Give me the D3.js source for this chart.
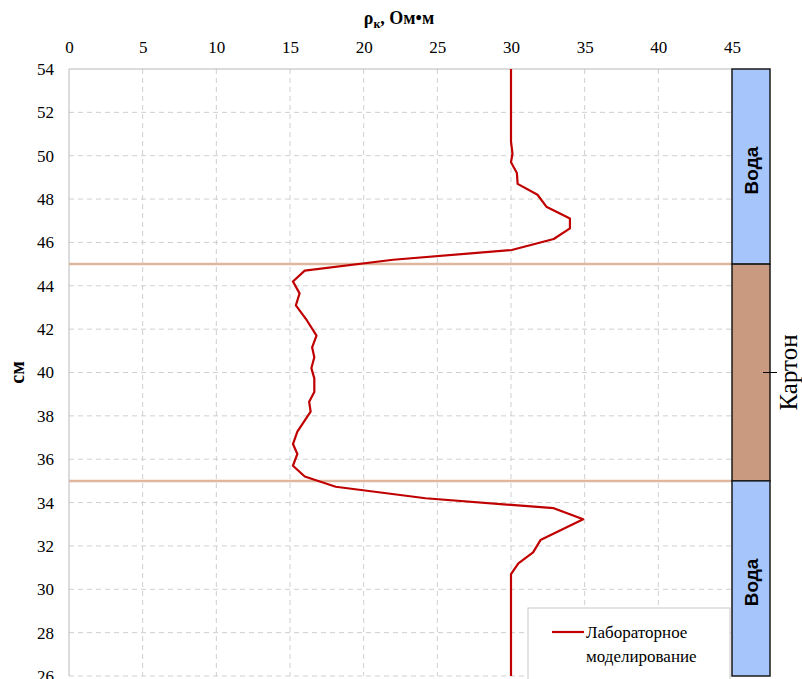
<!DOCTYPE html>
<html>
<head>
<meta charset="utf-8">
<script src="https://cdn.jsdelivr.net/npm/d3@7"></script>
<style>
  body { margin: 0; background: #fff; }
  svg { display: block; }
</style>
</head>
<body>
<div id="chart"></div>
<script>
// measured curve: resistivity (Ом•м) against depth (см)
var rho = [30, 30, 30.1, 30, 30.4, 30.45, 31.8, 32.4, 34, 34, 32.9, 30.05, 22, 16, 15.2, 15.65, 15.4, 16.15, 16.8, 16.5, 16.65, 16.45, 16.65, 16.65, 16.3, 16.4, 15.5, 15.2, 15.5, 15.2, 16, 18.1, 24.2, 32.9, 34.9, 32, 31.5, 30.5, 30, 30];
var depth = [54, 50.65, 50.1, 49.7, 49.2, 48.7, 48.2, 47.65, 47.1, 46.65, 46.16, 45.65, 45.2, 44.7, 44.2, 43.65, 43.1, 42.4, 41.7, 41.16, 40.7, 40.2, 39.73, 39.1, 38.65, 38.2, 37.27, 36.7, 36.24, 35.7, 35.2, 34.73, 34.2, 33.74, 33.23, 32.27, 31.7, 31.2, 30.7, 26];

var xTicks = [0, 5, 10, 15, 20, 25, 30, 35, 40, 45];
var yTicks = [26, 28, 30, 32, 34, 36, 38, 40, 42, 44, 46, 48, 50, 52, 54];

// layers of the model
var layerNames = ["Вода", "Картон", "Вода"];
var layerTop = [54, 45, 35];
var layerBottom = [45, 35, 26];
var boundaries = [45, 35];

var width = 802, height = 679;
var m = { left: 69, right: 732, top: 69, bottom: 676 };

var svg = d3.select("#chart").append("svg")
    .attr("width", width)
    .attr("height", height);

var x = d3.scaleLinear().domain([0, 45]).range([m.left, m.right]);
var y = d3.scaleLinear().domain([26, 54]).range([m.bottom, m.top]);

var serif = "'Liberation Serif', 'Times New Roman', serif";

// grid
svg.selectAll(".vgrid")
    .data(xTicks.filter(function (d) { return d > 0 && d < 45; }))
    .enter().append("line")
    .attr("x1", function (d) { return x(d); })
    .attr("x2", function (d) { return x(d); })
    .attr("y1", m.top).attr("y2", m.bottom)
    .attr("stroke", "#cfcfcf")
    .attr("stroke-dasharray", "5,4")
    .attr("stroke-width", 1);

svg.selectAll(".hgrid")
    .data(yTicks.filter(function (d) { return d < 54; }))
    .enter().append("line")
    .attr("x1", m.left).attr("x2", m.right)
    .attr("y1", function (d) { return y(d); })
    .attr("y2", function (d) { return y(d); })
    .attr("stroke", "#cfcfcf")
    .attr("stroke-dasharray", "5,4")
    .attr("stroke-width", 1);

// frame (left and top)
svg.append("path")
    .attr("d", "M" + m.left + "," + m.bottom + "V" + m.top + "H" + m.right)
    .attr("fill", "none")
    .attr("stroke", "#b8b8b8")
    .attr("stroke-width", 1);

// axes
var xAxis = svg.append("g")
    .attr("transform", "translate(0," + (m.top - 16) + ")")
    .call(d3.axisTop(x).tickValues(xTicks).tickSize(0).tickPadding(0));
xAxis.select(".domain").remove();
xAxis.selectAll("text")
    .attr("font-family", serif)
    .attr("font-size", 17)
    .attr("fill", "#000");

var yAxis = svg.append("g")
    .attr("transform", "translate(" + (m.left - 15) + ",0)")
    .call(d3.axisLeft(y).tickValues(yTicks).tickSize(0).tickPadding(0));
yAxis.select(".domain").remove();
yAxis.selectAll("text")
    .attr("font-family", serif)
    .attr("font-size", 17)
    .attr("fill", "#000");

// axis titles
var title = svg.append("text")
    .attr("x", 399).attr("y", 24)
    .attr("text-anchor", "middle")
    .attr("font-family", serif)
    .attr("font-size", 18)
    .attr("font-weight", "bold");
title.append("tspan").text("ρ");
title.append("tspan").attr("font-size", 12).attr("dy", 4).text("к");
title.append("tspan").attr("dy", -4).text(", Ом•м");

svg.append("text")
    .attr("transform", "translate(24," + y(40) + ") rotate(-90)")
    .attr("text-anchor", "middle")
    .attr("font-family", serif)
    .attr("font-size", 20)
    .attr("font-weight", "bold")
    .text("см");

// layer boundaries
svg.selectAll(".bound")
    .data(boundaries)
    .enter().append("line")
    .attr("x1", m.left).attr("x2", m.right)
    .attr("y1", function (d) { return y(d); })
    .attr("y2", function (d) { return y(d); })
    .attr("stroke", "#dfb79f")
    .attr("stroke-width", 2.5);

// curve
var line = d3.line()
    .x(function (d, i) { return x(rho[i]); })
    .y(function (d, i) { return y(depth[i]); });

svg.append("path")
    .datum(rho)
    .attr("d", line)
    .attr("fill", "none")
    .attr("stroke", "#c00000")
    .attr("stroke-width", 2.2)
    .attr("stroke-linejoin", "round");

// layer column on the right
var colX = x(45), colW = 38;
var layerColor = ["#a6c6fb", "#c99a7f", "#a6c6fb"];

svg.selectAll(".layer")
    .data(layerNames)
    .enter().append("rect")
    .attr("x", colX)
    .attr("y", function (d, i) { return y(layerTop[i]); })
    .attr("width", colW)
    .attr("height", function (d, i) { return y(layerBottom[i]) - y(layerTop[i]); })
    .attr("fill", function (d, i) { return layerColor[i]; })
    .attr("stroke", "#1a1a1a")
    .attr("stroke-width", 1.5);

layerNames.forEach(function (name, i) {
    var cy = (y(layerTop[i]) + y(layerBottom[i])) / 2;
    if (name === "Вода") {
        svg.append("text")
            .attr("transform", "translate(" + (colX + colW / 2 + 7) + "," + (cy + 4) + ") rotate(-90)")
            .attr("text-anchor", "middle")
            .attr("font-family", "'Liberation Sans', Arial, sans-serif")
            .attr("font-size", 19)
            .attr("font-weight", "bold")
            .text(name);
    } else {
        svg.append("line")
            .attr("x1", colX + colW / 2 + 12).attr("x2", colX + colW / 2 + 26)
            .attr("y1", cy).attr("y2", cy)
            .attr("stroke", "#000").attr("stroke-width", 1);
        svg.append("text")
            .attr("transform", "translate(" + (colX + colW / 2 + 46) + "," + cy + ") rotate(-90)")
            .attr("text-anchor", "middle")
            .attr("font-family", serif)
            .attr("font-size", 25)
            .text(name);
    }
});

// legend
var lg = svg.append("g").attr("transform", "translate(528,608)");
lg.append("rect")
    .attr("width", 202).attr("height", 75)
    .attr("fill", "#fff")
    .attr("stroke", "#c8c8c8");
lg.append("line")
    .attr("x1", 24).attr("x2", 56)
    .attr("y1", 24).attr("y2", 24)
    .attr("stroke", "#c00000").attr("stroke-width", 2.2);
lg.append("text")
    .attr("x", 58).attr("y", 30)
    .attr("font-family", serif).attr("font-size", 17)
    .text("Лабораторное");
lg.append("text")
    .attr("x", 58).attr("y", 54)
    .attr("font-family", serif).attr("font-size", 17)
    .text("моделирование");
</script>
</body>
</html>
